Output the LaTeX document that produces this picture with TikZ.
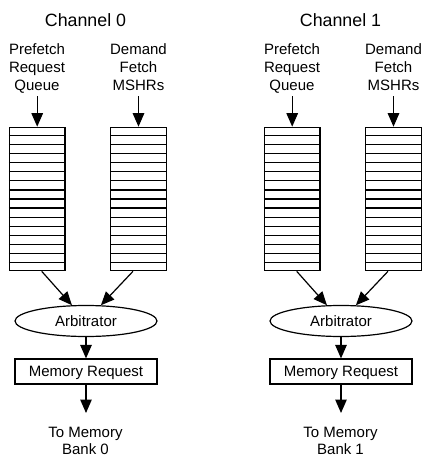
\documentclass[tikz,border=0pt]{standalone}
\usepackage{fontspec}
\setmainfont{Liberation Sans}
\usetikzlibrary{shapes.geometric,arrows.meta,calc}
\begin{document}
\begin{tikzpicture}[x=1pt,y=-1pt,
 lbl/.style={font=\fontsize{15}{17.85}\selectfont, align=center, inner sep=0pt, anchor=north},
 ttl/.style={font=\fontsize{17.8}{21}\selectfont, inner sep=0pt, anchor=base},
 queue/.style={draw, line width=1.2pt, minimum width=55.7pt, minimum height=143.4pt, inner sep=0pt},
 arb/.style={draw, ellipse, line width=1.2pt, minimum width=142pt, minimum height=31pt, inner sep=0pt, font=\fontsize{15}{18}\selectfont, text depth=0pt},
 mreq/.style={draw, rectangle, line width=1.2pt, minimum width=142pt, minimum height=25pt, inner sep=0pt, font=\fontsize{15}{18}\selectfont, text depth=0pt},
 arr/.style={line width=1.2pt, -{Triangle[length=13.5pt,width=11.5pt]}},
 row/.style={line width=1.1pt}]
\useasboundingbox (0,0) rectangle (422,457);
\foreach \c/\dx in {0/0,1/255}{
 \begin{scope}[xshift=\dx pt]
 \node[ttl] (t\c) at (85.5,26.7) {Channel \c};
 \node[lbl] (p\c) at (37,43.3) {Prefetch\\Request\\Queue};
 \node[lbl] (d\c) at (138.5,43.3) {Demand\\Fetch\\MSHRs};
 \node[queue] (qa\c) at (37.2,199) {};
 \node[queue] (qb\c) at (138.5,199) {};
 \coordinate (pa\c) at (37.2,96.5);
 \coordinate (da\c) at (138.5,96.5);
 \draw[arr] (pa\c) -- (qa\c.north);
 \draw[arr] (da\c) -- (qb\c.north);
 \foreach \i in {1,...,15}{
   \draw[row] ($(qa\c.north west)!\i/16!(qa\c.south west)$) -- ($(qa\c.north east)!\i/16!(qa\c.south east)$);
   \draw[row] ($(qb\c.north west)!\i/16!(qb\c.south west)$) -- ($(qb\c.north east)!\i/16!(qb\c.south east)$);
 }
 \node[arb] (e\c) at (86,321) {Arbitrator};
 \node[mreq] (m\c) at (86,371.5) {Memory Request};
 \coordinate (o\c) at (86,413);
 \node[lbl] (b\c) at (85.5,426.5) {To Memory\\Bank \c};
 \draw[arr] ([xshift=4.5pt]qa\c.south) -- (e\c);
 \draw[arr] ([xshift=-5.5pt]qb\c.south) -- (e\c);
 \draw[arr] (e\c) -- (m\c);
 \draw[arr] (m\c) -- (o\c);
 \end{scope}
}
\end{tikzpicture}
\end{document}
